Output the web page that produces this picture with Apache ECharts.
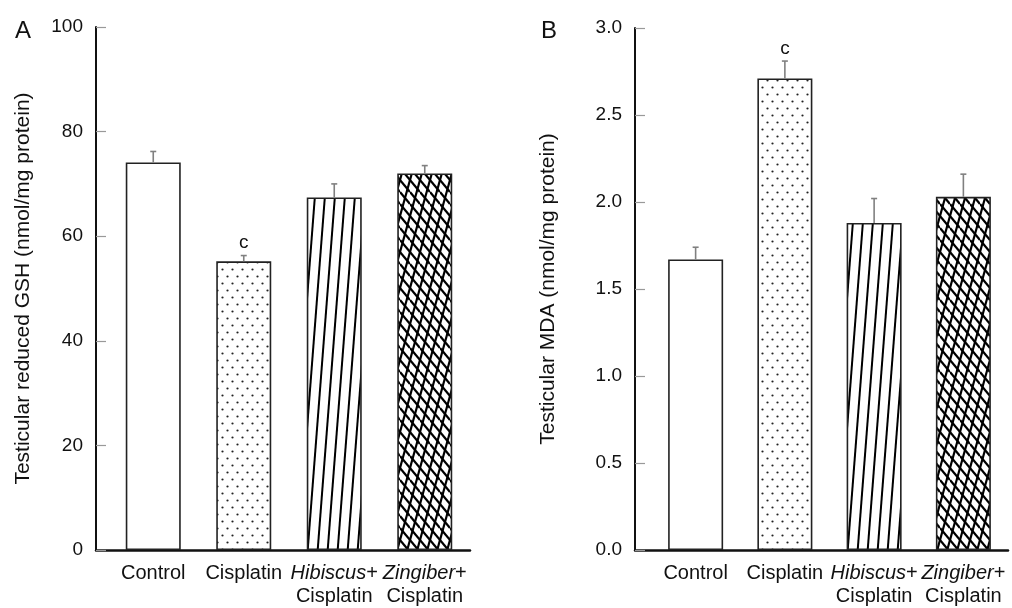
<!DOCTYPE html>
<html>
<head>
<meta charset="utf-8">
<script src="https://cdn.jsdelivr.net/npm/echarts@6/dist/echarts.min.js"></script>
<style>
html,body{margin:0;padding:0;background:#fff;}
#chart{width:1012px;height:608px;}
</style>
</head>
<body>
<div id="chart"></div>
<script>
// ---- data ----
var categories = ['Control', 'Cisplatin', 'Hibiscus+\nCisplatin', 'Zingiber+\nCisplatin'];
var gshMean = [74.1, 55.2, 67.4, 72.0];
var gshErr  = [2.1, 1.1, 2.6, 1.5];
var mdaMean = [1.67, 2.71, 1.88, 2.03];
var mdaErr  = [0.07, 0.10, 0.14, 0.13];
var sigLabels = ['', 'c', '', ''];
var gshTicks = [0, 20, 40, 60, 80, 100];
var mdaTicks = [0.0, 0.5, 1.0, 1.5, 2.0, 2.5, 3.0];

var FONT = 'Liberation Sans, Arial, Helvetica, sans-serif';

// ---- pattern fills ----
function makeCanvas(w, h) {
  var c = document.createElement('canvas');
  c.width = w; c.height = h;
  var ctx = c.getContext('2d');
  ctx.fillStyle = '#fff';
  ctx.fillRect(0, 0, w, h);
  return [c, ctx];
}
function dotPattern() {
  var r = makeCanvas(10, 14), c = r[0], ctx = r[1];
  ctx.fillStyle = '#222';
  [[2.5, 3.5], [7.5, 10.5]].forEach(function (p) {
    ctx.beginPath(); ctx.arc(p[0], p[1], 1.1, 0, Math.PI * 2); ctx.fill();
  });
  return c;
}
function linePattern() {
  var W = 10, H = 130;
  var r = makeCanvas(W, H), c = r[0], ctx = r[1];
  ctx.strokeStyle = '#000'; ctx.lineWidth = 2;
  for (var k = -1; k <= 1; k++) {
    ctx.beginPath(); ctx.moveTo(k * W, H); ctx.lineTo(k * W + W, 0); ctx.stroke();
  }
  return c;
}
function crossPattern() {
  var W = 10, H = 36, S = 12;
  var r = makeCanvas(W, H), c = r[0], ctx = r[1];
  ctx.strokeStyle = '#000'; ctx.lineWidth = 2.2;
  for (var k = -1; k <= 1; k++) {
    ctx.beginPath(); ctx.moveTo(k * W, H); ctx.lineTo(k * W + W, 0); ctx.stroke();
  }
  for (var j = -1; j <= H / S; j++) {
    ctx.beginPath(); ctx.moveTo(0, j * S); ctx.lineTo(W, j * S + S); ctx.stroke();
  }
  return c;
}
var fills = [
  '#ffffff',
  { image: dotPattern(), repeat: 'repeat' },
  { image: linePattern(), repeat: 'repeat' },
  { image: crossPattern(), repeat: 'repeat' }
];

function barData(vals) {
  return vals.map(function (v, i) {
    return { value: v, itemStyle: { color: fills[i] } };
  });
}
function errData(vals, errs) {
  return vals.map(function (v, i) { return [i, v, errs[i]]; });
}
function errRender(params, api) {
  var x = api.value(0), y = api.value(1), e = api.value(2);
  var lab = sigLabels[params.dataIndex];
  var p0 = api.coord([x, y]), p1 = api.coord([x, y + e]);
  var children = [
    { type: 'line', shape: { x1: p0[0], y1: p0[1], x2: p1[0], y2: p1[1] },
      style: { stroke: '#808080', lineWidth: 1.6 } },
    { type: 'line', shape: { x1: p1[0] - 3, y1: p1[1], x2: p1[0] + 3, y2: p1[1] },
      style: { stroke: '#808080', lineWidth: 1.6 } }
  ];
  if (lab) {
    children.push({ type: 'text', x: p1[0], y: p1[1] - 3,
      style: { text: lab, fontSize: 19, fontFamily: FONT, fill: '#111',
               align: 'center', verticalAlign: 'bottom' } });
  }
  return { type: 'group', children: children };
}

function labelFmt(v) {
  var parts = v.split('\n');
  if (parts.length > 1) {
    var first = parts[0].replace(/^([A-Za-z]+)/, '{it|$1}');
    return first + '\n' + parts[1];
  }
  return v;
}

function frameX(gi) {
  return { gridIndex: gi, type: 'value', min: 0, max: 1,
    axisLine: { show: true, onZero: false, lineStyle: { color: '#111', width: 2.5 } },
    axisTick: { show: false }, axisLabel: { show: false }, splitLine: { show: false } };
}
function frameY(gi, ticks, name, gap, fmt) {
  return { gridIndex: gi, type: 'value', min: ticks[0], max: ticks[ticks.length - 1],
    interval: ticks[1] - ticks[0],
    name: name, nameLocation: 'middle', nameGap: gap, nameRotate: 90,
    nameTextStyle: { fontSize: 21, fontFamily: FONT, color: '#111' },
    axisLine: { show: true, lineStyle: { color: '#111', width: 2 } },
    axisTick: { show: true, inside: true, length: 10, lineStyle: { color: '#999', width: 1.2 } },
    axisLabel: { fontSize: 19, fontFamily: FONT, color: '#111', margin: 13, formatter: fmt },
    splitLine: { show: false } };
}
function catX(gi) {
  return { gridIndex: gi, type: 'category', data: categories,
    axisLine: { show: false }, axisTick: { show: false },
    axisLabel: { interval: 0, margin: 12, fontSize: 20, fontFamily: FONT, color: '#111',
      lineHeight: 23, formatter: labelFmt,
      rich: { it: { fontStyle: 'italic', fontSize: 20, fontFamily: FONT, color: '#111', lineHeight: 23 } } } };
}
function hiddenY(gi, ticks) {
  return { gridIndex: gi, type: 'value', min: ticks[0], max: ticks[ticks.length - 1],
    show: false, splitLine: { show: false } };
}

var chart = echarts.init(document.getElementById('chart'), null, { renderer: 'canvas' });
chart.setOption({
  animation: false,
  backgroundColor: '#fff',
  title: [
    { text: 'A', left: 10, top: 14, textStyle: { fontSize: 24, fontWeight: 'normal', fontFamily: FONT, color: '#111' } },
    { text: 'B', left: 536, top: 14, textStyle: { fontSize: 24, fontWeight: 'normal', fontFamily: FONT, color: '#111' } }
  ],
  grid: [
    { left: 96, top: 27, width: 374, height: 523 },
    { left: 108, top: 27, width: 362, height: 523 },
    { left: 635, top: 28, width: 373, height: 522 },
    { left: 651, top: 28, width: 357, height: 522 }
  ],
  xAxis: [frameX(0), catX(1), frameX(2), catX(3)],
  yAxis: [
    frameY(0, gshTicks, 'Testicular reduced GSH (nmol/mg protein)', 62, function (v) { return String(v); }),
    hiddenY(1, gshTicks),
    frameY(2, mdaTicks, 'Testicular MDA (nmol/mg protein)', 76, function (v) { return v.toFixed(1); }),
    hiddenY(3, mdaTicks)
  ],
  series: [
    { type: 'bar', xAxisIndex: 1, yAxisIndex: 1, barWidth: 55, data: barData(gshMean),
      itemStyle: { borderColor: '#222', borderWidth: 1.6 } },
    { type: 'custom', xAxisIndex: 1, yAxisIndex: 1, renderItem: errRender, data: errData(gshMean, gshErr), z: 5 },
    { type: 'bar', xAxisIndex: 3, yAxisIndex: 3, barWidth: 55, data: barData(mdaMean),
      itemStyle: { borderColor: '#222', borderWidth: 1.6 } },
    { type: 'custom', xAxisIndex: 3, yAxisIndex: 3, renderItem: errRender, data: errData(mdaMean, mdaErr), z: 5 }
  ]
});
</script>
</body>
</html>
